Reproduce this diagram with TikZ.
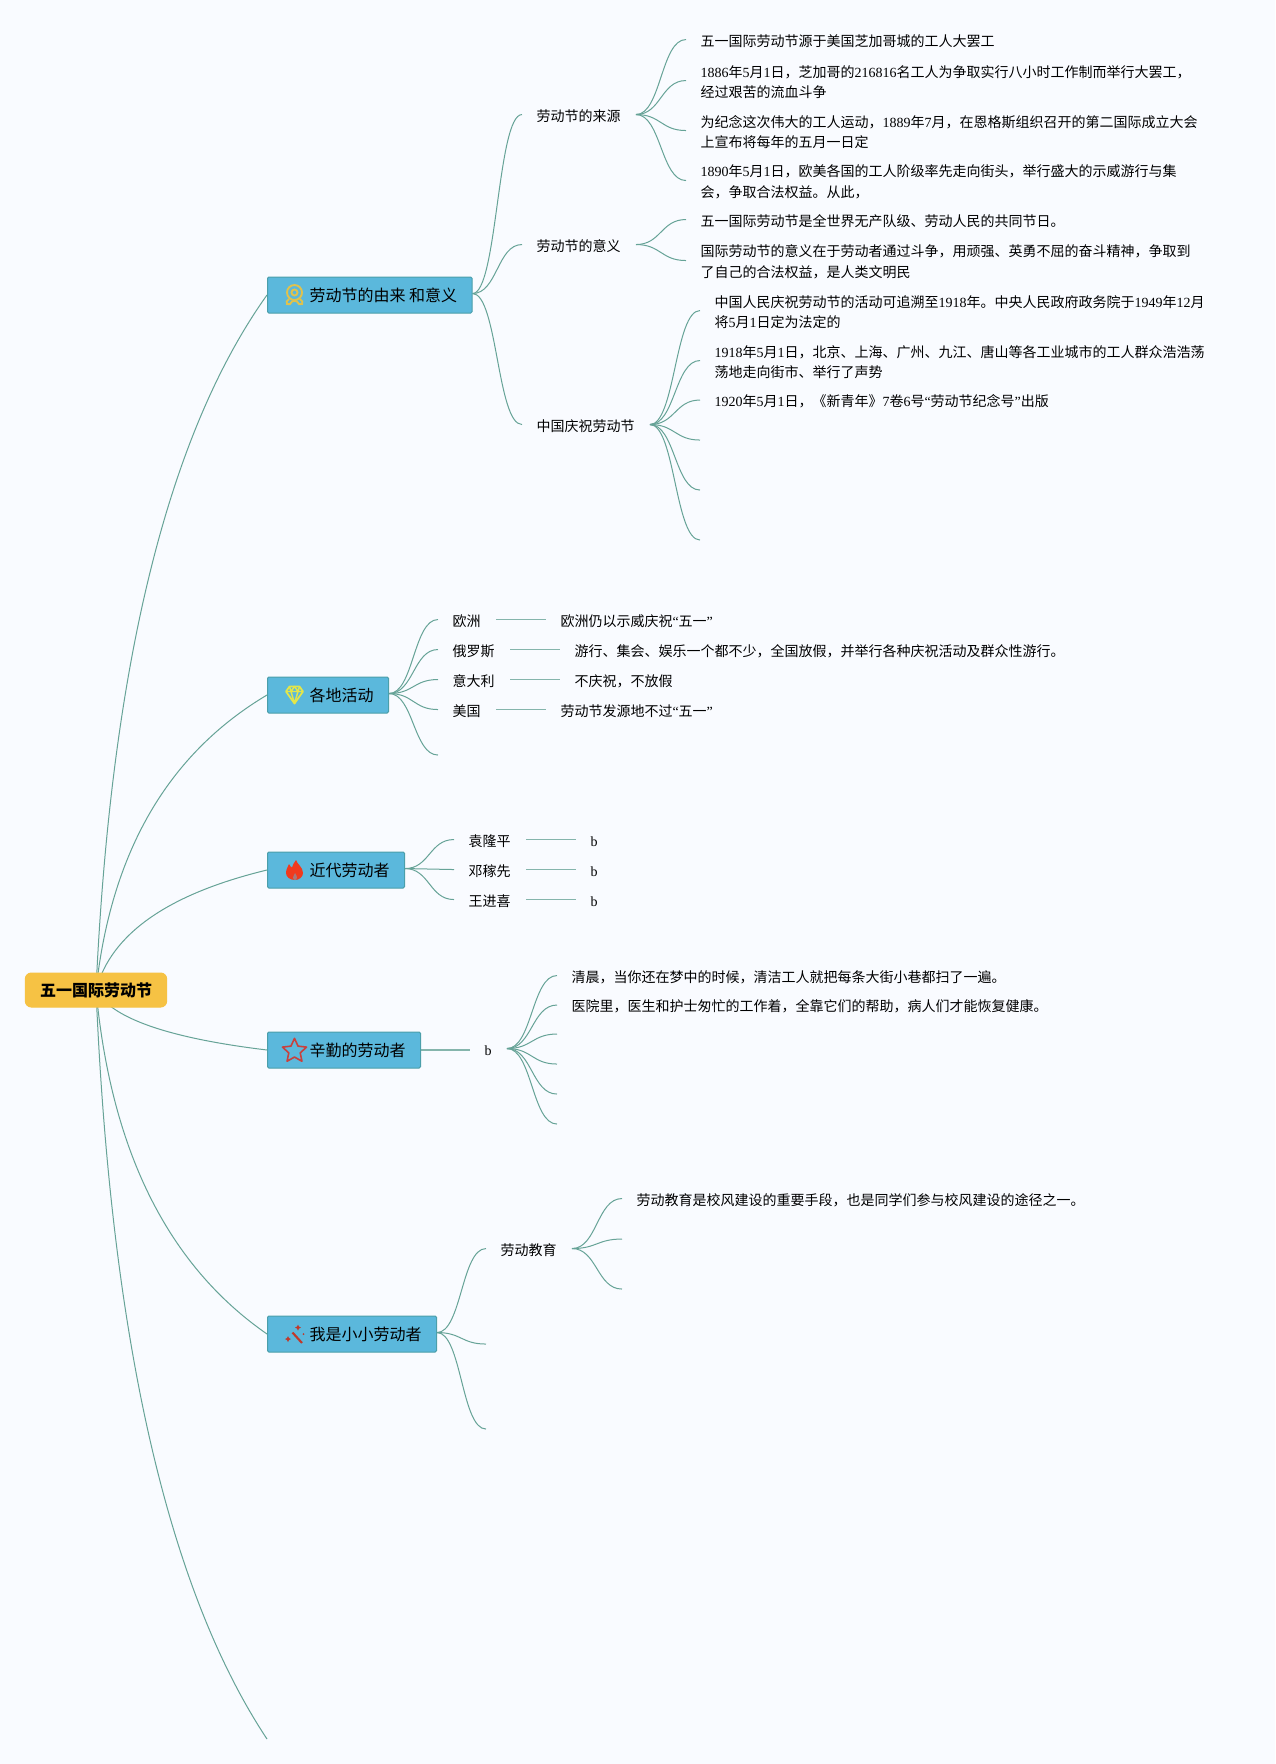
\documentclass[tikz,border=0pt]{standalone}
\usepackage{fontspec}
\setmainfont{Noto Sans CJK SC}
\newfontfamily\latinfont{Liberation Serif}
\usetikzlibrary{calc,backgrounds,shapes.geometric}

\definecolor{pagefill}{HTML}{F9FBFF}
\definecolor{linkgreen}{HTML}{66A397}
\definecolor{topicblue}{HTML}{5BB8DC}
\definecolor{topicedge}{HTML}{4B9FAA}
\definecolor{rootgold}{HTML}{F6C244}
\definecolor{medalgold}{HTML}{E0C24D}
\definecolor{gemyellow}{HTML}{E3E64A}
\definecolor{flamered}{HTML}{F03A1E}
\definecolor{starred}{HTML}{C9403C}
\definecolor{wandred}{HTML}{C0392B}

\newcommand{\ltn}[1]{{\latinfont #1}}
\newcommand{\rootlink}[2]{\draw[curveline] let \p1=(#1),\p2=(#2) in (\p1) .. controls ({\x1+.087*(\x2-\x1)},{\y1+.467*(\y2-\y1)}) and ({\x1+.42*(\x2-\x1)},{\y1+.8*(\y2-\y1)}) .. (\p2);}
\newcommand{\leaflink}[2]{\draw[curveline,liftline] let \p1=(#1),\p2=(#2) in (\p1) .. controls ({.5*\x1+.5*\x2},\y1) and ({.5*\x1+.5*\x2},\y2) .. (\p2);}

\tikzset{
  every picture/.style={line width=0.75pt},
  liftline/.style={transform canvas={yshift=1.1pt}},
  curveline/.style={color=linkgreen,line width=0.75pt},
  straightline/.style={color=linkgreen!80!white,line width=1.1pt},
  rootbox/.style={fill=rootgold,draw=rootgold,rounded corners=4.5pt,minimum width=106pt,minimum height=25.5pt,inner sep=0pt,font=\fontsize{12pt}{15pt}\selectfont\bfseries},
  topicbox/.style={anchor=west,fill=topicblue,draw=topicedge,rounded corners=1pt,minimum height=27pt,inner ysep=0pt,inner xsep=11.25pt,font=\fontsize{12pt}{15pt}\selectfont,execute at begin node={\hspace*{20.25pt}}},
  leaftext/.style={anchor=west,inner xsep=10.5pt,inner ysep=1pt,align=left,font=\fontsize{10.5pt}{15.4pt}\selectfont,execute at end node={\hspace*{0.75pt}}},
}

\begin{document}
\begin{tikzpicture}[x=0.75pt,y=0.75pt,yscale=-1,xscale=1]
\useasboundingbox (0,0) rectangle (1275,1764);
\begin{scope}[on background layer]
\fill[pagefill] (0,0) rectangle (1275,1764);
\end{scope}

% Root and topics
\node[rootbox] (root) at (96,990) {五一国际劳动节};
\node[topicbox] (origin) at (267,295) {劳动节的由来 和意义};
\node[topicbox] (places) at (267,695) {各地活动};
\node[topicbox] (modern) at (267,870) {近代劳动者};
\node[topicbox] (hardwork) at (267,1050) {辛勤的劳动者};
\node[topicbox] (little) at (267,1334) {我是小小劳动者};
\coordinate (rootend) at (267,1739);

% Text Node
\node[leaftext] (source) at (522,116) {劳动节的来源};
\node[leaftext] (meaning) at (522,246) {劳动节的意义};
\node[leaftext] (china) at (522,426) {中国庆祝劳动节};

\node[leaftext] (sourcea) at (686,41) {五一国际劳动节源于美国芝加哥城的工人大罢工};
\node[leaftext] (sourceb) at (686,82) {\ltn{1886}年\ltn{5}月\ltn{1}日，芝加哥的\ltn{216816}名工人为争取实行八小时工作制而举行大罢工，\\经过艰苦的流血斗争};
\node[leaftext] (sourcec) at (686,132) {为纪念这次伟大的工人运动，\ltn{1889}年\ltn{7}月，在恩格斯组织召开的第二国际成立大会\\上宣布将每年的五月一日定};
\node[leaftext] (sourced) at (686,182) {\ltn{1890}年\ltn{5}月\ltn{1}日，欧美各国的工人阶级率先走向街头，举行盛大的示威游行与集\\会，争取合法权益。从此，};
\node[leaftext] (meaninga) at (686,221) {五一国际劳动节是全世界无产队级、劳动人民的共同节日。};
\node[leaftext] (meaningb) at (686,262) {国际劳动节的意义在于劳动者通过斗争，用顽强、英勇不屈的奋斗精神，争取到\\了自己的合法权益，是人类文明民};
\node[leaftext] (chinaa) at (700,312) {中国人民庆祝劳动节的活动可追溯至\ltn{1918}年。中央人民政府政务院于\ltn{1949}年\ltn{12}月\\将\ltn{5}月\ltn{1}日定为法定的};
\node[leaftext] (chinab) at (700,362) {\ltn{1918}年\ltn{5}月\ltn{1}日，北京、上海、广州、九江、唐山等各工业城市的工人群众浩浩荡\\荡地走向街市、举行了声势};
\node[leaftext] (chinac) at (700,401.5) {\ltn{1920}年\ltn{5}月\ltn{1}日，《新青年》\ltn{7}卷\ltn{6}号\ltn{“}劳动节纪念号\ltn{”}出版};
\coordinate (chinad) at (700,441.5);
\coordinate (chinae) at (700,491.5);
\coordinate (chinaf) at (700,541.5);

\node[leaftext] (europe) at (438,621) {欧洲};
\node[leaftext] (russia) at (438,651) {俄罗斯};
\node[leaftext] (italy) at (438,681) {意大利};
\node[leaftext] (usa) at (438,711) {美国};
\coordinate (placesend) at (438,756.5);
\node[leaftext] (europenote) at (546,621) {欧洲仍以示威庆祝\ltn{“}五一\ltn{”}};
\node[leaftext] (russianote) at (560,651) {游行、集会、娱乐一个都不少，全国放假，并举行各种庆祝活动及群众性游行。};
\node[leaftext] (italynote) at (560,681) {不庆祝，不放假};
\node[leaftext] (usanote) at (546,711) {劳动节发源地不过\ltn{“}五一\ltn{”}};

\node[leaftext] (yuan) at (454,841) {袁隆平};
\node[leaftext] (deng) at (454,871) {邓稼先};
\node[leaftext] (wang) at (454,901) {王进喜};
\node[leaftext] (yuannote) at (576,841) {\vphantom{国}\ltn{b}};
\node[leaftext] (dengnote) at (576,871) {\vphantom{国}\ltn{b}};
\node[leaftext] (wangnote) at (576,901) {\vphantom{国}\ltn{b}};

\node[leaftext] (worker) at (470,1050) {\vphantom{国}\ltn{b}};
\node[leaftext] (workera) at (557,977) {清晨，当你还在梦中的时候，清洁工人就把每条大街小巷都扫了一遍。};
\node[leaftext] (workerb) at (557,1006.5) {医院里，医生和护士匆忙的工作着，全靠它们的帮助，病人们才能恢复健康。};
\coordinate (workerc) at (557,1035.5);
\coordinate (workerd) at (557,1065.5);
\coordinate (workere) at (557,1095.5);
\coordinate (workerf) at (557,1125.5);

\node[leaftext] (teach) at (486,1250) {劳动教育};
\coordinate (littleb) at (486,1345.5);
\coordinate (littlec) at (486,1430.5);
\node[leaftext] (teacha) at (622,1200) {劳动教育是校风建设的重要手段，也是同学们参与校风建设的途径之一。};
\coordinate (teachb) at (622,1240.5);
\coordinate (teachc) at (622,1290.5);

\begin{scope}[on background layer]
%Curve Lines
\rootlink{root.center}{origin.west}
\rootlink{root.center}{places.west}
\rootlink{root.center}{modern.west}
\rootlink{root.center}{hardwork.west}
\rootlink{root.center}{little.west}
\rootlink{root.center}{rootend}

\leaflink{origin.east}{source.west}
\leaflink{origin.east}{meaning.west}
\leaflink{origin.east}{china.west}
\foreach \leaf in {sourcea,sourceb,sourcec,sourced} {\leaflink{source.east}{\leaf.west}}
\foreach \leaf in {meaninga,meaningb} {\leaflink{meaning.east}{\leaf.west}}
\foreach \leaf in {chinaa,chinab,chinac} {\leaflink{china.east}{\leaf.west}}
\foreach \leaf in {chinad,chinae,chinaf} {\leaflink{china.east}{\leaf}}

\foreach \leaf in {europe,russia,italy,usa} {\leaflink{places.east}{\leaf.west}}
\leaflink{places.east}{placesend}
\foreach \leaf in {yuan,deng,wang} {\leaflink{modern.east}{\leaf.west}}

\leaflink{worker.east}{workera.west}
\leaflink{worker.east}{workerb.west}
\foreach \leaf in {workerc,workerd,workere,workerf} {\leaflink{worker.east}{\leaf}}

\leaflink{little.east}{teach.west}
\leaflink{little.east}{littleb}
\leaflink{little.east}{littlec}
\leaflink{teach.east}{teacha.west}
\leaflink{teach.east}{teachb}
\leaflink{teach.east}{teachc}

%Straight Lines
\draw[straightline,liftline] (europe.east) -- (europenote.west);
\draw[straightline,liftline] (russia.east) -- (russianote.west);
\draw[straightline,liftline] (italy.east) -- (italynote.west);
\draw[straightline,liftline] (usa.east) -- (usanote.west);
\draw[straightline,liftline] (yuan.east) -- (yuannote.west);
\draw[straightline,liftline] (deng.east) -- (dengnote.west);
\draw[straightline,liftline] (wang.east) -- (wangnote.west);
\draw[straightline] (hardwork.east) -- (worker.west);
\end{scope}

%Shape: Medal
\draw[color=medalgold,line width=1.4pt] (294.5,292.5) circle (7.5);
\draw[color=medalgold,line width=1.4pt] (294.5,292.5) circle (3);
\draw[color=medalgold,line width=1.4pt] (289,299) .. controls (287,301) and (285.5,302) .. (287,304) .. controls (289,305.5) and (291,304) .. (292,301.5) .. controls (293,300.5) and (296,300.5) .. (297,301.5) .. controls (298,304) and (300,305.5) .. (302,304) .. controls (303.5,302) and (302,301) .. (300,299);
%Shape: Diamond
\draw[color=gemyellow,line width=1.3pt,line join=round] (289.5,686.5) -- (299.5,686.5) -- (303,691.5) -- (294.5,703.5) -- (286,691.5) -- cycle;
\draw[color=gemyellow,line width=1.1pt,line join=round] (286,691.5) -- (303,691.5) (289.5,686.5) -- (291,691.5) -- (294.5,703.5) -- (298,691.5) -- (299.5,686.5) (291,691.5) -- (294.5,686.5) -- (298,691.5);
%Shape: Flame
\fill[color=flamered] (296,860) .. controls (297,864) and (303,867) .. (303,873) .. controls (303,877) and (299,880) .. (295,880) .. controls (290,880) and (286,877) .. (286,873) .. controls (286,869) and (288,867) .. (289,864) .. controls (290,866) and (291,867) .. (292,867.5) .. controls (293,865) and (294,862) .. (296,860) -- cycle;
\fill[color=topicblue!50!flamered] (295,873) .. controls (296,875) and (297,876) .. (297,877.5) .. controls (297,879) and (296,880) .. (295,880) .. controls (294,880) and (293,879) .. (293,877.5) .. controls (293,876) and (294.5,875) .. (295,873) -- cycle;
%Shape: Star
\node[star,star points=5,star point ratio=2.1,draw=starred,line width=1.2pt,line join=round,inner sep=0pt,minimum size=19pt] (staricon) at (294.5,1051) {};
%Shape: Wand
\draw[color=wandred,line width=1.6pt] (292.5,1332.5) -- (302,1343);
\fill[color=wandred] (298,1324.5) -- (299,1326.5) -- (301,1327.5) -- (299,1328.5) -- (298,1330.5) -- (297,1328.5) -- (295,1327.5) -- (297,1326.5) -- cycle;
\fill[color=wandred] (288,1336) -- (289,1338) -- (291,1339) -- (289,1340) -- (288,1342) -- (287,1340) -- (285,1339) -- (287,1338) -- cycle;
\fill[color=wandred] (303.5,1334) circle (1);

\end{tikzpicture}
\end{document}
